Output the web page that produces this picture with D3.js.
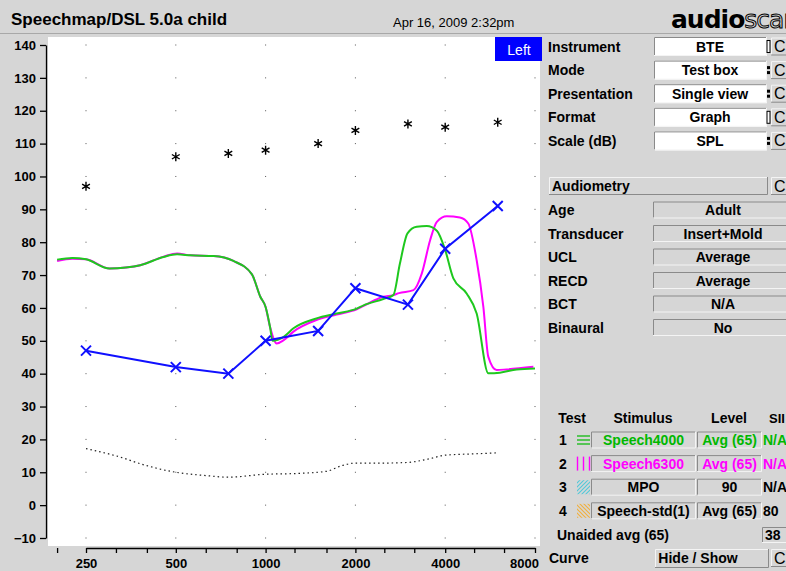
<!DOCTYPE html>
<html>
<head>
<meta charset="utf-8">
<script src="https://cdn.jsdelivr.net/npm/d3@7"></script>
<style>
  body { margin: 0; background: #d6d6d6; }
  svg { display: block; font-family: "Liberation Sans", Arial, sans-serif; }
  .axis text { font-size: 13px; font-weight: bold; fill: #000; font-family: "Liberation Sans", Arial, sans-serif; }
  .axis path, .axis line { stroke: #000; stroke-width: 1.3; }
  .lbl { font-size: 14px; font-weight: bold; fill: #000; }
  .val { font-size: 14px; font-weight: bold; fill: #000; text-anchor: middle; }
</style>
</head>
<body>
<svg id="chart" width="786" height="571"></svg>
<script>
// ============= Data =============
const dbTicks = [-10, 0, 10, 20, 30, 40, 50, 60, 70, 80, 90, 100, 110, 120, 130, 140];
const freqTicks = [200, 250, 315, 400, 500, 630, 800, 1000, 1250, 1600, 2000, 2500, 3150, 4000, 5000, 6300, 8000];
const freqLabels = [250, 500, 1000, 2000, 4000, 8000];

// audiometric points (left ear)
const audioFreqs = [250, 500, 750, 1000, 1500, 2000, 3000, 4000, 6000];
const thresholdDb = [47, 42, 40, 50, 53, 66, 61, 78, 91];
const uclDb = [97, 106, 107, 108, 110, 114, 116, 115, 116.5];

// normal hearing threshold (dotted)
const normFreqs = [250, 315, 400, 500, 630, 750, 1000, 1250, 1600, 1800, 2000, 2500, 3000, 3500, 4000, 5000, 6000];
const normDb = [17.2, 15, 12, 10, 9, 8.5, 9.4, 9.6, 10.3, 12, 12.8, 12.8, 13, 14, 15.2, 15.6, 15.9];

// test 1 - Speech4000
const speech4000Freqs = [200, 225, 250, 300, 340, 380, 455, 505, 560, 670, 780, 900, 960, 1000, 1035, 1055, 1150, 1240, 1480, 1730, 2020, 2130, 2480, 2680, 2820, 2990, 3210, 3470, 3750, 4000, 4260, 4720, 5100, 5580, 6100, 6950, 8000];
const speech4000Db = [74.7, 75.2, 74.8, 72.0, 72.3, 73.0, 75.5, 76.3, 76.0, 75.8, 74.3, 70.2, 63.4, 60.3, 54.2, 50.0, 51.2, 53.8, 56.8, 58.3, 59.8, 60.8, 62.7, 63.9, 73.5, 82.7, 84.7, 84.9, 83.5, 77.6, 69.0, 64.4, 58.3, 40.1, 40.3, 41.3, 41.6];

// test 2 - Speech6300
const speech6300Freqs = [200, 225, 250, 300, 340, 380, 455, 505, 560, 670, 780, 900, 960, 1000, 1035, 1090, 1150, 1240, 1480, 1730, 2020, 2130, 2480, 2680, 2800, 3130, 3340, 3560, 3750, 4050, 4480, 4780, 5100, 5370, 5580, 5950, 6430, 7900];
const speech6300Db = [74.3, 75.0, 74.8, 72.0, 72.3, 73.0, 75.6, 76.6, 76.0, 75.8, 74.3, 70.2, 63.4, 60.3, 54.2, 49.2, 50.2, 52.8, 56.3, 58.0, 59.6, 60.6, 63.4, 63.9, 64.5, 65.4, 70.5, 80.6, 86.2, 87.9, 87.5, 85.7, 74.5, 60.3, 45.1, 41.1, 41.3, 42.1];

// right panel
const setupLabels = ['Instrument', 'Mode', 'Presentation', 'Format', 'Scale (dB)'];
const setupValues = ['BTE', 'Test box', 'Single view', 'Graph', 'SPL'];
const setupMarks = ['bar', 'dots', 'dots', 'bar', 'dots'];
const audioLabels = ['Age', 'Transducer', 'UCL', 'RECD', 'BCT', 'Binaural'];
const audioValues = ['Adult', 'Insert+Mold', 'Average', 'Average', 'N/A', 'No'];
const testNumbers = ['1', '2', '3', '4'];
const testStimuli = ['Speech4000', 'Speech6300', 'MPO', 'Speech-std(1)'];
const testLevels = ['Avg (65)', 'Avg (65)', '90', 'Avg (65)'];
const testSII = ['N/A', 'N/A', 'N/A', '80'];
const testColors = ['#00b800', '#ff00ff', '#000', '#000'];

const green = '#1ec81e', magenta = '#ff00ff', blue = '#1010ff';

const svg = d3.select('#chart');

// ============= Header =============
svg.append('rect').attr('width', 786).attr('height', 571).attr('fill', '#d6d6d6');
svg.append('line').attr('x1', 0).attr('x2', 786).attr('y1', 33.5).attr('y2', 33.5)
  .attr('stroke', '#a8a8a8');

svg.append('text').attr('x', 11).attr('y', 25)
  .style('font-size', '17px').style('font-weight', 'bold')
  .text('Speechmap/DSL 5.0a child');

svg.append('text').attr('x', 393).attr('y', 27)
  .style('font-size', '13px')
  .text('Apr 16, 2009 2:32pm');

// logo runs off the right edge, as in the original screen
const logo = svg.append('text').attr('x', 671).attr('y', 28)
  .style('font-family', '"DejaVu Sans", sans-serif')
  .style('font-size', '25px').style('font-weight', 'bold')
  .style('letter-spacing', '-1px');
logo.append('tspan').text('audio');
logo.append('tspan').attr('fill', '#d6d6d6').attr('stroke', '#000').attr('stroke-width', 1)
  .style('font-weight', 'normal').text('scan');

// ============= Plot =============
const x = d3.scaleLog().domain([250, 8000]).range([86, 535]);
const y = d3.scaleLinear().domain([-10, 140]).range([538, 45]);

svg.append('rect').attr('x', 48).attr('y', 37).attr('width', 492).attr('height', 509)
  .attr('fill', '#fff');

svg.append('clipPath').attr('id', 'plot-clip')
  .append('rect').attr('x', 48).attr('y', 37).attr('width', 492).attr('height', 509);

// grid dots
const dots = svg.append('g').attr('fill', '#555');
freqLabels.forEach(f => {
  dots.selectAll(null).data(dbTicks).enter().append('rect')
    .attr('x', x(f) - 0.5).attr('y', d => y(d) - 0.5)
    .attr('width', 1).attr('height', 1);
});

// axes
svg.append('g').attr('class', 'axis')
  .attr('transform', 'translate(46,0)')
  .call(d3.axisLeft(y).tickValues(dbTicks).tickSize(6).tickSizeOuter(0).tickPadding(4));

const xAxis = svg.append('g').attr('class', 'axis')
  .attr('transform', 'translate(0,548)')
  .call(d3.axisBottom(x).tickValues(freqTicks).tickSize(5).tickSizeOuter(0).tickPadding(6)
    .tickFormat(d => freqLabels.includes(d) ? d : ''));

// last label is pulled in so it stays on screen
xAxis.selectAll('.tick text').filter(d => d === 8000).attr('dx', -11);

const plot = svg.append('g').attr('clip-path', 'url(#plot-clip)');

// normal threshold
plot.append('path')
  .datum(d3.zip(normFreqs, normDb))
  .attr('fill', 'none').attr('stroke', '#222').attr('stroke-width', 1.2)
  .attr('stroke-dasharray', '1.5,3')
  .attr('d', d3.line().x(d => x(d[0])).y(d => y(d[1])).curve(d3.curveMonotoneX));

// speech curves
const speechLine = d3.line().x(d => x(d[0])).y(d => y(d[1])).curve(d3.curveMonotoneX);

plot.append('path')
  .datum(d3.zip(speech6300Freqs, speech6300Db))
  .attr('fill', 'none').attr('stroke', magenta).attr('stroke-width', 2)
  .attr('d', speechLine);

plot.append('path')
  .datum(d3.zip(speech4000Freqs, speech4000Db))
  .attr('fill', 'none').attr('stroke', green).attr('stroke-width', 2)
  .attr('d', speechLine);

// thresholds
const thresholds = d3.zip(audioFreqs, thresholdDb);
plot.append('path')
  .datum(thresholds)
  .attr('fill', 'none').attr('stroke', blue).attr('stroke-width', 2)
  .attr('d', d3.line().x(d => x(d[0])).y(d => y(d[1])));

plot.selectAll('.xmark').data(thresholds).enter().append('path')
  .attr('class', 'xmark')
  .attr('transform', d => 'translate(' + x(d[0]) + ',' + y(d[1]) + ')')
  .attr('d', 'M-5,-5L5,5M-5,5L5,-5')
  .attr('stroke', blue).attr('stroke-width', 2);

// UCL asterisks
plot.selectAll('.ucl').data(d3.zip(audioFreqs, uclDb)).enter().append('path')
  .attr('class', 'ucl')
  .attr('transform', d => 'translate(' + x(d[0]) + ',' + y(d[1]) + ')')
  .attr('d', 'M0,-4.5L0,4.5M-3.9,-2.25L3.9,2.25M-3.9,2.25L3.9,-2.25')
  .attr('stroke', '#000').attr('stroke-width', 1.4);

// Left badge
svg.append('rect').attr('x', 495).attr('y', 37).attr('width', 47).attr('height', 24)
  .attr('fill', '#0000ff');
svg.append('text').attr('x', 519).attr('y', 54.5)
  .attr('text-anchor', 'middle').attr('fill', '#fff')
  .style('font-size', '14px').text('Left');

// ============= Right panel =============
function bevelBox(g, bx, by, w, h, fill, raised){
  g.append('rect').attr('x', bx).attr('y', by).attr('width', w).attr('height', h)
    .attr('fill', fill);
  const dark = '#8a8a8a', light = '#f4f4f4';
  g.append('path').attr('d', `M${bx + 0.5},${by + h}V${by + 0.5}H${bx + w}`)
    .attr('fill', 'none').attr('stroke', raised ? light : dark);
  g.append('path').attr('d', `M${bx + w - 0.5},${by}V${by + h - 0.5}H${bx}`)
    .attr('fill', 'none').attr('stroke', raised ? dark : light);
}

function cButton(g, cy){
  bevelBox(g, 771, cy - 9, 20, 18, '#d6d6d6', true);
  g.append('text').attr('x', 774).attr('y', cy + 5.5)
    .style('font-size', '16px').text('C');
}

const panel = svg.append('g');

// setup rows
setupLabels.forEach((lab, i) => {
  const cy = 46.5 + i * 23.6;
  panel.append('text').attr('class', 'lbl').attr('x', 548).attr('y', cy + 5).text(lab);
  bevelBox(panel, 654, cy - 9.5, 113, 19, '#fff', false);
  panel.append('text').attr('class', 'val').attr('x', 710).attr('y', cy + 5).text(setupValues[i]);
  if(setupMarks[i] === 'bar'){
    panel.append('rect').attr('x', 767).attr('y', cy - 6).attr('width', 3).attr('height', 12)
      .attr('fill', '#fff').attr('stroke', '#000').attr('stroke-width', 1);
  } else {
    panel.append('rect').attr('x', 767).attr('y', cy - 4).attr('width', 3).attr('height', 3).attr('fill', '#000');
    panel.append('rect').attr('x', 767).attr('y', cy + 1).attr('width', 3).attr('height', 3).attr('fill', '#000');
  }
  cButton(panel, cy);
});

// audiometry
bevelBox(panel, 549, 177, 219, 18, '#d6d6d6', true);
panel.append('text').attr('class', 'lbl').attr('x', 552).attr('y', 191).text('Audiometry');
cButton(panel, 186);

audioLabels.forEach((lab, i) => {
  const cy = 210 + i * 23.5;
  panel.append('text').attr('class', 'lbl').attr('x', 548).attr('y', cy + 5).text(lab);
  bevelBox(panel, 653, cy - 8.5, 140, 17, '#d6d6d6', false);
  panel.append('text').attr('class', 'val').attr('x', 723).attr('y', cy + 5).text(audioValues[i]);
});

// test table
const defs = svg.append('defs');
defs.append('pattern').attr('id', 'hatch-mpo').attr('width', 4).attr('height', 4)
  .attr('patternUnits', 'userSpaceOnUse')
  .append('path').attr('d', 'M-1,1L1,-1M0,4L4,0M3,5L5,3')
  .attr('stroke', '#55c8d8').attr('stroke-width', 1.2);
defs.append('pattern').attr('id', 'hatch-std').attr('width', 4).attr('height', 4)
  .attr('patternUnits', 'userSpaceOnUse')
  .append('path').attr('d', 'M-1,3L1,5M0,0L4,4M3,-1L5,1')
  .attr('stroke', '#f0b040').attr('stroke-width', 1.2);

panel.append('text').attr('class', 'val').attr('x', 572).attr('y', 423).text('Test');
panel.append('text').attr('class', 'val').attr('x', 643).attr('y', 423).text('Stimulus');
panel.append('text').attr('class', 'val').attr('x', 729).attr('y', 423).text('Level');
panel.append('text').attr('class', 'lbl').attr('x', 769).attr('y', 423)
  .style('font-size', '13px').text('SII');

testStimuli.forEach((stim, i) => {
  const cy = 440 + i * 23.6;
  const col = testColors[i];
  panel.append('text').attr('class', 'lbl').attr('x', 559).attr('y', cy + 5).text(testNumbers[i]);

  // icon
  const ic = panel.append('g');
  if(i === 0){
    [-4, 0, 4].forEach(dy => ic.append('line').attr('x1', 577).attr('x2', 590)
      .attr('y1', cy + dy).attr('y2', cy + dy).attr('stroke', col).attr('stroke-width', 1.2));
  } else if(i === 1){
    [577.5, 583.5, 589.5].forEach(lx => ic.append('line').attr('x1', lx).attr('x2', lx)
      .attr('y1', cy - 7).attr('y2', cy + 7).attr('stroke', col).attr('stroke-width', 1.4));
  } else {
    ic.append('rect').attr('x', 577).attr('y', cy - 7).attr('width', 13).attr('height', 14)
      .attr('fill', i === 2 ? 'url(#hatch-mpo)' : 'url(#hatch-std)');
  }

  bevelBox(panel, 591, cy - 8.5, 105, 17, '#d6d6d6', false);
  panel.append('text').attr('class', 'val').attr('x', 643.5).attr('y', cy + 5)
    .style('fill', col).text(stim);
  bevelBox(panel, 697, cy - 8.5, 65, 17, '#d6d6d6', false);
  panel.append('text').attr('class', 'val').attr('x', 729.5).attr('y', cy + 5)
    .style('fill', col).text(testLevels[i]);
  panel.append('text').attr('class', 'lbl').attr('x', 763).attr('y', cy + 5)
    .style('fill', col).text(testSII[i]);
});

panel.append('text').attr('class', 'lbl').attr('x', 557).attr('y', 540).text('Unaided avg (65)');
bevelBox(panel, 762, 527, 28, 16, '#d6d6d6', false);
panel.append('text').attr('class', 'lbl').attr('x', 765).attr('y', 540).text('38');

panel.append('text').attr('class', 'lbl').attr('x', 549).attr('y', 563).text('Curve');
bevelBox(panel, 655, 549, 114, 19, '#d6d6d6', true);
panel.append('text').attr('class', 'val').attr('x', 698).attr('y', 563).text('Hide / Show');
cButton(panel, 558);
</script>
</body>
</html>
